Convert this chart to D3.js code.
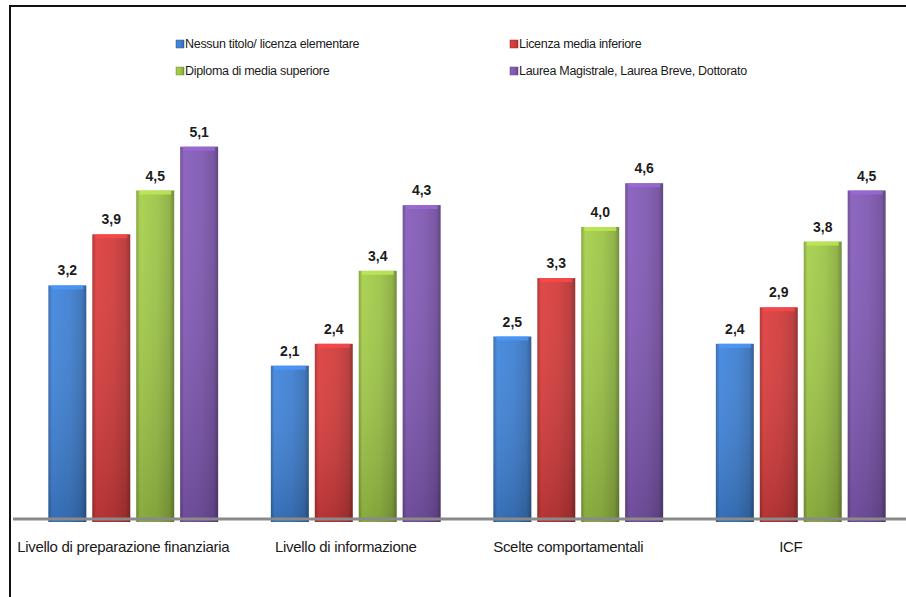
<!DOCTYPE html>
<html>
<head>
<meta charset="utf-8">
<script src="https://cdn.jsdelivr.net/npm/d3@7"></script>
<style>
  body { margin: 0; background: #fff; }
  svg { display: block; }
</style>
</head>
<body>
<div id="chart"></div>
<script>
var categories = ["Livello di preparazione finanziaria", "Livello di informazione", "Scelte comportamentali", "ICF"];
var seriesNames = ["Nessun titolo/ licenza elementare", "Licenza media inferiore", "Diploma di media superiore", "Laurea Magistrale,  Laurea Breve, Dottorato"];
var nessun = [3.2, 2.1, 2.5, 2.4];
var licenza = [3.9, 2.4, 3.3, 2.9];
var diploma = [4.5, 3.4, 4.0, 3.8];
var laurea = [5.1, 4.3, 4.6, 4.5];
var seriesValues = [nessun, licenza, diploma, laurea];

var colors = ["#3f80d2", "#d23c3c", "#9ec548", "#8159b3"];

var svgWidth = 906, svgHeight = 597;
var baseline = 519;

var svg = d3.select("#chart").append("svg")
    .attr("width", svgWidth)
    .attr("height", svgHeight);

// frame (only left and top visible in the picture)
svg.append("rect")
    .attr("x", 10).attr("y", 6)
    .attr("width", 920).attr("height", 620)
    .attr("fill", "none")
    .attr("stroke", "#111")
    .attr("stroke-width", 2);

var x0 = d3.scaleBand()
    .domain(categories)
    .range([22, 912])
    .paddingInner(0)
    .paddingOuter(0);

var x1 = d3.scaleBand()
    .domain(d3.range(seriesNames.length))
    .range([0, x0.bandwidth()])
    .paddingInner(0.136)
    .paddingOuter(0.6);

var y = d3.scaleLinear()
    .domain([0, 6])
    .range([baseline, baseline - 6 * 73]);

// gradients for the bevelled look
var defs = svg.append("defs");
colors.forEach(function(c, i) {
    var g = defs.append("linearGradient")
        .attr("id", "grad" + i)
        .attr("x1", "0").attr("x2", "1").attr("y1", "0").attr("y2", "0");
    var base = d3.color(c);
    g.append("stop").attr("offset", "0%").attr("stop-color", base.darker(0.6));
    g.append("stop").attr("offset", "10%").attr("stop-color", base.brighter(0.15));
    g.append("stop").attr("offset", "55%").attr("stop-color", base);
    g.append("stop").attr("offset", "88%").attr("stop-color", base.darker(0.35));
    g.append("stop").attr("offset", "100%").attr("stop-color", base.darker(1.1));

    var v = defs.append("linearGradient")
        .attr("id", "shade" + i)
        .attr("x1", "0").attr("x2", "0").attr("y1", "0").attr("y2", "1");
    v.append("stop").attr("offset", "0%").attr("stop-color", "#fff").attr("stop-opacity", 0.05);
    v.append("stop").attr("offset", "100%").attr("stop-color", "#000").attr("stop-opacity", 0.18);
});

// legend
var legendPos = [[176, 44], [510, 44], [176, 71], [510, 71]];
var legend = svg.append("g").attr("class", "legend");
seriesNames.forEach(function(name, i) {
    var item = legend.append("g")
        .attr("transform", "translate(" + legendPos[i][0] + "," + legendPos[i][1] + ")");
    item.append("rect")
        .attr("x", 0).attr("y", -4)
        .attr("width", 8).attr("height", 8)
        .attr("fill", "url(#grad" + i + ")")
        .attr("stroke", d3.color(colors[i]).darker(0.8))
        .attr("stroke-width", 0.5);
    item.append("text")
        .attr("x", 9)
        .attr("y", 0)
        .attr("dy", "0.35em")
        .style("font-family", "'Liberation Sans', Arial, sans-serif")
        .style("font-size", "12.5px")
        .style("letter-spacing", "-0.3px")
        .attr("fill", "#1a1a1a")
        .text(name);
});

// bars
var groups = svg.selectAll(".group")
    .data(categories)
    .enter().append("g")
    .attr("class", "group")
    .attr("transform", function(d) { return "translate(" + x0(d) + ",0)"; });

var barData = function(cat, ci) {
    return seriesValues.map(function(vals, si) { return {si: si, v: vals[ci]}; });
};

groups.each(function(cat, ci) {
    var g = d3.select(this);
    var bars = g.selectAll(".bar")
        .data(barData(cat, ci))
        .enter().append("g")
        .attr("class", "bar");

    bars.append("rect")
        .attr("x", function(d) { return x1(d.si); })
        .attr("y", function(d) { return y(d.v); })
        .attr("width", x1.bandwidth())
        .attr("height", function(d) { return y(0) - y(d.v) + 3; })
        .attr("fill", function(d) { return "url(#grad" + d.si + ")"; });

    bars.append("rect")
        .attr("x", function(d) { return x1(d.si); })
        .attr("y", function(d) { return y(d.v); })
        .attr("width", x1.bandwidth())
        .attr("height", function(d) { return y(0) - y(d.v) + 3; })
        .attr("fill", function(d) { return "url(#shade" + d.si + ")"; });

    // top cap highlight
    bars.append("rect")
        .attr("x", function(d) { return x1(d.si) + 3; })
        .attr("y", function(d) { return y(d.v); })
        .attr("width", x1.bandwidth() - 6)
        .attr("height", 4)
        .attr("fill", function(d) { return d3.color(colors[d.si]).brighter(0.5); })
        .attr("opacity", 0.8);

    bars.append("text")
        .attr("x", function(d) { return x1(d.si) + x1.bandwidth() / 2; })
        .attr("y", function(d) { return y(d.v) - 10; })
        .attr("text-anchor", "middle")
        .style("font-family", "'Liberation Sans', Arial, sans-serif")
        .style("font-weight", "bold")
        .style("font-size", "14px")
        .attr("fill", "#1c1c1c")
        .text(function(d) { return d3.format(".1f")(d.v).replace(".", ","); });
});

// axis line
var xAxis = d3.axisBottom(x0).tickSize(0).tickPadding(22);
var axisG = svg.append("g")
    .attr("class", "x axis")
    .attr("transform", "translate(0," + baseline + ")")
    .call(xAxis);

axisG.select(".domain")
    .attr("d", "M13,0H906")
    .attr("stroke", "#8a8a8a")
    .attr("stroke-width", 3);

axisG.selectAll(".tick text")
    .attr("dx", -10)
    .style("font-family", "'Liberation Sans', Arial, sans-serif")
    .style("font-size", "15px")
    .style("letter-spacing", "-0.3px")
    .attr("fill", "#1a1a1a");
</script>
</body>
</html>
